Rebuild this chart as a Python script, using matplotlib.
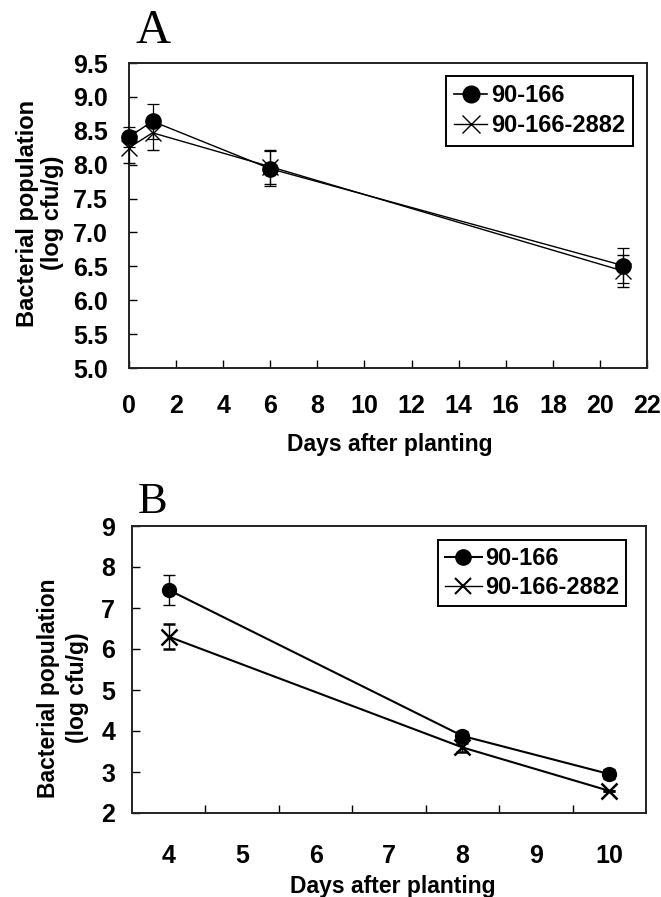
import matplotlib.pyplot as plt
from matplotlib.lines import Line2D
import numpy as np

plt.rcParams['font.family'] = ['Liberation Sans', 'DejaVu Sans']
plt.rcParams['font.weight'] = 'bold'

# panel A
days_a = [0, 1, 6, 21]
wt_a = [8.41, 8.64, 7.94, 6.51]
wt_a_err = [0.15, 0.26, 0.26, 0.26]
mut_a = [8.25, 8.47, 7.97, 6.43]
mut_a_err = [0.22, 0.25, 0.25, 0.24]

# panel B
days_b = [4, 8, 10]
wt_b = [7.44, 3.88, 2.95]
wt_b_err = [0.36, 0.12, 0.13]
mut_b = [6.30, 3.60, 2.54]
mut_b_err = [0.31, 0.10, 0.0]

labels = ['90-166', '90-166-2882']

W, H = 661, 897
fig = plt.figure(figsize=(W / 100, H / 100), dpi=100)


def box(l, r, t, b):
    return [l / W, 1 - b / H, (r - l) / W, (b - t) / H]


def style(ax):
    for s in ax.spines.values():
        s.set_linewidth(1.4)
        s.set_color('#222222')
    ax.tick_params(direction='in', length=6, width=1, labelsize=18)


# ---- A ----
axA = fig.add_axes(box(129, 647, 63, 368))
style(axA)
axA.errorbar(days_a, wt_a, yerr=wt_a_err, color='black', lw=1, marker='o',
             ms=11, capsize=4, elinewidth=0.9, capthick=0.9, clip_on=False, zorder=3)
axA.errorbar(days_a, mut_a, yerr=mut_a_err, color='black', lw=1, marker='x',
             ms=12, mew=1, capsize=4, elinewidth=0.9, capthick=0.9, clip_on=False, zorder=3)
axA.set_xlim(0, 22)
axA.set_ylim(5.0, 9.5)
axA.set_xticks(np.arange(0, 23, 2))
axA.set_yticks(np.arange(5.0, 9.51, 0.5))
axA.set_yticklabels(['%.1f' % v for v in np.arange(5.0, 9.51, 0.5)])
axA.tick_params(axis='x', pad=19)
axA.tick_params(axis='y', pad=15)
hA = [Line2D([], [], color='black', lw=1.2, marker='o', ms=12),
      Line2D([], [], color='black', lw=1, marker='x', ms=13, mew=1)]
axA.legend(hA, labels, loc='upper right', bbox_to_anchor=(0.973, 0.957),
           borderaxespad=0, fancybox=False, edgecolor='black', framealpha=1,
           fontsize=17, handlelength=1.4, handletextpad=0.15, borderpad=0.35,
           labelspacing=0.3).get_frame().set_linewidth(1.4)
fig.text(40 / W, 1 - 213 / H, 'Bacterial population\n(log cfu/g)', rotation=90,
         ha='center', va='center', fontsize=17, linespacing=1.1)
fig.text(390 / W, 1 - 445 / H, 'Days after planting', ha='center', va='center', fontsize=16.5)
fig.text(153 / W, 1 - 31 / H, 'A', family='Liberation Serif', weight='normal',
         fontsize=35, ha='center', va='center')

# ---- B ----
axB = fig.add_axes(box(132, 646, 526, 813))
style(axB)
axB.errorbar(days_b, wt_b, yerr=wt_b_err, color='black', lw=1.5, marker='o',
             ms=10, capsize=4, elinewidth=1, capthick=1, zorder=3)
axB.errorbar(days_b, mut_b, yerr=mut_b_err, color='black', lw=1.5, marker='x',
             ms=11, mew=1.8, capsize=4, elinewidth=1, capthick=1, zorder=3)
axB.set_xlim(3.5, 10.5)
axB.set_ylim(2, 9)
axB.set_xticks(np.arange(4, 11, 1))
axB.set_xticks(np.arange(4.5, 10, 1), minor=True)
axB.set_yticks(np.arange(2, 10, 1))
axB.tick_params(axis='x', which='major', length=0, pad=22)
axB.tick_params(axis='x', which='minor', direction='in', length=6, width=1)
axB.tick_params(axis='y', pad=12)
hB = [Line2D([], [], color='black', lw=1.5, marker='o', ms=11),
      Line2D([], [], color='black', lw=1, marker='x', ms=12, mew=1.5)]
axB.legend(hB, labels, loc='upper right', bbox_to_anchor=(0.961, 0.951),
           borderaxespad=0, fancybox=False, edgecolor='black', framealpha=1,
           fontsize=17, handlelength=1.6, handletextpad=0.1, borderpad=0.3,
           labelspacing=0.25).get_frame().set_linewidth(1.4)
fig.text(63 / W, 1 - 688 / H, 'Bacterial population\n(log cfu/g)', rotation=90,
         ha='center', va='center', fontsize=16.5, linespacing=1.3)
fig.text(393 / W, 1 - 886 / H, 'Days after planting', ha='center', va='center', fontsize=16.5)
fig.text(153 / W, 1 - 502 / H, 'B', family='Liberation Serif', weight='normal',
         fontsize=32, ha='center', va='center')

fig.savefig('out.png', dpi=100)
